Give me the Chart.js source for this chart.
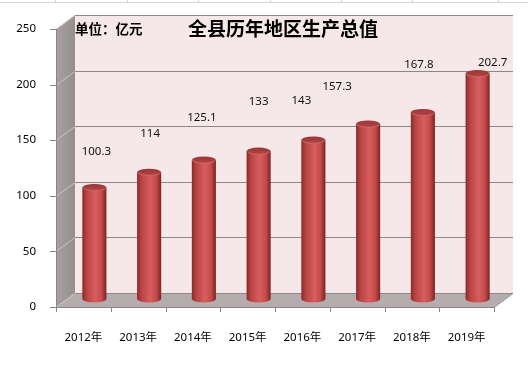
<!DOCTYPE html>
<html>
<head>
<meta charset="utf-8">
<script src="https://cdn.jsdelivr.net/npm/chart.js@4/dist/chart.umd.min.js"></script>
<style>
  html, body { margin: 0; padding: 0; background: #fff; }
  #wrap { width: 528px; height: 366px; }
</style>
</head>
<body>
<div id="wrap"><canvas id="gdp"></canvas></div>
<script>
// data
const anni = ['2012年', '2013年', '2014年', '2015年', '2016年', '2017年', '2018年', '2019年'];
const valori = [100.3, 114, 125.1, 133, 143, 157.3, 167.8, 202.7];
const tickY = [0, 50, 100, 150, 200, 250];

const titolo = '全县历年地区生产总值';
const unita = '单位：亿元';

// depth of the fake 3d box
const DX = 19, DY = 14;
// where the cylinders sit inside that depth
const BX = 11, BY = 8;
// label nudges (px) from cylinder top, the excel labels are scattered
const nudge = [[2, -36], [1, -39], [-2, -42], [0, -49], [-12, -39], [-31, -37], [-4, -48], [15, -11]];

const fontTxt = '"Noto Sans", "Noto Sans CJK SC", sans-serif';

const box3d = {
  id: 'box3d',
  beforeDatasetsDraw(chart) {
    const ctx = chart.ctx;
    const a = chart.chartArea;
    const y = chart.scales.y;
    const x = chart.scales.x;
    ctx.save();

    // spreadsheet lines behind the chart
    ctx.strokeStyle = '#d4d4d4';
    ctx.lineWidth = 1;
    ctx.beginPath();
    ctx.moveTo(0, 2.5); ctx.lineTo(528, 2.5);
    [55, 127, 198, 270, 341, 412, 498].forEach(px => { ctx.moveTo(px + 0.5, 0); ctx.lineTo(px + 0.5, 2.5); });
    ctx.stroke();

    // back wall
    ctx.fillStyle = '#f6e8e8';
    ctx.fillRect(a.left + DX, a.top - DY, a.right - a.left, a.bottom - a.top);

    // left wall
    let g = ctx.createLinearGradient(a.left, 0, a.left + DX, 0);
    g.addColorStop(0, '#a8a1a1');
    g.addColorStop(1, '#958e8e');
    ctx.fillStyle = g;
    ctx.beginPath();
    ctx.moveTo(a.left, a.top);
    ctx.lineTo(a.left + DX, a.top - DY);
    ctx.lineTo(a.left + DX, a.bottom - DY);
    ctx.lineTo(a.left, a.bottom);
    ctx.closePath();
    ctx.fill();

    // floor
    ctx.fillStyle = '#b5adad';
    ctx.beginPath();
    ctx.moveTo(a.left, a.bottom);
    ctx.lineTo(a.right, a.bottom);
    ctx.lineTo(a.right + DX, a.bottom - DY);
    ctx.lineTo(a.left + DX, a.bottom - DY);
    ctx.closePath();
    ctx.fill();

    // grid on back wall + diagonals on side wall
    tickY.forEach(v => {
      const py = Math.round(y.getPixelForValue(v)) + 0.5;
      ctx.strokeStyle = '#8c8888';
      ctx.beginPath();
      ctx.moveTo(a.left + DX, py - DY);
      ctx.lineTo(a.right + DX, py - DY);
      ctx.stroke();
      ctx.strokeStyle = '#c9c3c3';
      ctx.beginPath();
      ctx.moveTo(a.left, py);
      ctx.lineTo(a.left + DX, py - DY);
      ctx.stroke();
    });

    // axes
    ctx.strokeStyle = '#868686';
    ctx.beginPath();
    ctx.moveTo(a.left + 0.5, a.top);
    ctx.lineTo(a.left + 0.5, a.bottom + 0.5);
    ctx.lineTo(a.right, a.bottom + 0.5);
    ctx.lineTo(a.right + DX, a.bottom - DY + 0.5);
    tickY.forEach(v => {
      const py = Math.round(y.getPixelForValue(v)) + 0.5;
      ctx.moveTo(a.left - 6, py); ctx.lineTo(a.left, py);
    });
    const w = (a.right - a.left) / anni.length;
    for (let i = 0; i <= anni.length; i++) {
      const px = Math.round(a.left + i * w) + 0.5;
      ctx.moveTo(px, a.bottom); ctx.lineTo(px, a.bottom + 5);
    }
    ctx.stroke();
    ctx.restore();
  },
  afterDatasetsDraw(chart) {
    const ctx = chart.ctx;
    const meta = chart.getDatasetMeta(0);
    ctx.save();
    meta.data.forEach((bar, i) => {
      const cx = bar.x + BX;
      const top = bar.y - BY;
      const base = bar.base - BY;
      const r = bar.width / 2;
      const ry = 3.5;

      const g = ctx.createLinearGradient(cx - r, 0, cx + r, 0);
      g.addColorStop(0, '#8a2a2a');
      g.addColorStop(0.18, '#b94343');
      g.addColorStop(0.55, '#d85e5e');
      g.addColorStop(0.8, '#c34a4a');
      g.addColorStop(1, '#7a2323');
      ctx.fillStyle = g;
      ctx.beginPath();
      ctx.moveTo(cx - r, top);
      ctx.lineTo(cx - r, base);
      ctx.ellipse(cx, base, r, ry, 0, Math.PI, 0, true);
      ctx.lineTo(cx + r, top);
      ctx.closePath();
      ctx.fill();

      // top cap
      const gt = ctx.createLinearGradient(0, top - ry, 0, top + ry);
      gt.addColorStop(0, '#9a3535');
      gt.addColorStop(1, '#b44545');
      ctx.fillStyle = gt;
      ctx.beginPath();
      ctx.ellipse(cx, top, r, ry, 0, 0, Math.PI * 2);
      ctx.fill();
      ctx.strokeStyle = 'rgba(230,140,140,0.6)';
      ctx.lineWidth = 0.8;
      ctx.beginPath();
      ctx.ellipse(cx, top, r - 0.4, ry - 0.3, 0, 0.1, Math.PI - 0.1);
      ctx.stroke();

      // value label
      ctx.fillStyle = '#111';
      ctx.font = '11.5px ' + fontTxt;
      ctx.textAlign = 'center';
      ctx.textBaseline = 'middle';
      ctx.fillText(String(valori[i]), cx + nudge[i][0], top + nudge[i][1]);
    });

    // unit + title sit inside the back wall
    ctx.fillStyle = '#000';
    ctx.textBaseline = 'middle';
    ctx.textAlign = 'left';
    ctx.font = 'bold 13.5px "Noto Sans CJK SC", sans-serif';
    ctx.fillText(unita, 75, 29);
    ctx.textAlign = 'center';
    ctx.font = 'bold 19px "Noto Sans CJK SC", sans-serif';
    ctx.fillText(titolo, 283, 29);
    ctx.restore();
  }
};

new Chart(document.getElementById('gdp'), {
  type: 'bar',
  data: {
    labels: anni,
    datasets: [{
      data: valori,
      backgroundColor: 'rgba(0,0,0,0)',
      borderWidth: 0,
      barPercentage: 0.44,
      categoryPercentage: 1
    }]
  },
  options: {
    responsive: true,
    maintainAspectRatio: false,
    animation: false,
    layout: { padding: { top: 29, right: 34, left: 0, bottom: 0 } },
    plugins: {
      legend: { display: false },
      title: { display: false },
      tooltip: { enabled: false }
    },
    scales: {
      x: {
        grid: { display: false },
        border: { display: false },
        ticks: { color: '#000', padding: 16, font: { size: 11.5, family: fontTxt } },
        afterFit(s) { s.height = 59; }
      },
      y: {
        min: 0,
        max: 250,
        grid: { display: false },
        border: { display: false },
        ticks: { stepSize: 50, color: '#000', padding: 12, font: { size: 11.5, family: fontTxt } },
        afterFit(s) { s.width = 56; }
      }
    }
  },
  plugins: [box3d]
});
</script>
</body>
</html>
